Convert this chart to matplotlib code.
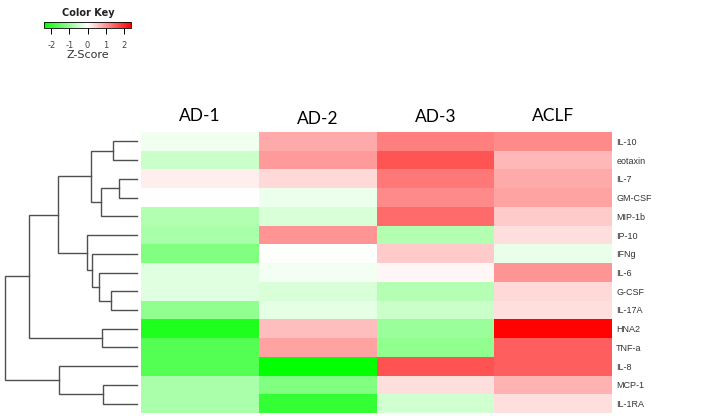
import numpy as np
import matplotlib
matplotlib.use("Agg")
import matplotlib.pyplot as plt
from matplotlib.colors import LinearSegmentedColormap, Normalize
from matplotlib.cm import ScalarMappable

plt.rcParams["axes.unicode_minus"] = False

# ---- data ----
columns = ["AD-1", "AD-2", "AD-3", "ACLF"]
rows = ["IL-10", "eotaxin", "IL-7", "GM-CSF", "MIP-1b", "IP-10", "IFNg", "IL-6",
        "G-CSF", "IL-17A", "HNA2", "TNF-a", "IL-8", "MCP-1", "IL-1RA"]
ad1 = [-0.15, -0.5, 0.15, 0.0, -0.73, -0.8, -1.2, -0.3, -0.3, -1.05, -2.1, -1.6, -1.6, -0.8, -0.8]
ad2 = [0.8, 0.95, 0.37, -0.17, -0.37, 1.0, -0.02, -0.1, -0.37, -0.25, 0.6, 0.88, -2.38, -1.2, -1.9]
ad3 = [1.2, 1.6, 1.27, 1.1, 1.4, -0.73, 0.5, 0.08, -0.7, -0.5, -0.95, -1.05, 1.63, 0.3, -0.44]
aclf = [1.1, 0.66, 0.8, 0.88, 0.5, 0.3, -0.2, 1.0, 0.37, 0.3, 2.38, 1.5, 1.5, 0.73, 0.3]

# dendrogram merges: (left, right, height)
merges = [
    ("IL-10", "eotaxin", 1.82),   # c0
    ("IL-7", "GM-CSF", 1.36),     # c1
    ("c1", "MIP-1b", 2.73),       # c2
    ("c0", "c2", 3.48),           # c3
    ("G-CSF", "IL-17A", 1.97),    # c4
    ("IL-6", "c4", 2.88),         # c5
    ("IFNg", "c5", 3.41),         # c6
    ("IP-10", "c6", 3.79),        # c7
    ("c3", "c7", 5.98),           # c8
    ("HNA2", "TNF-a", 2.65),      # c9
    ("c8", "c9", 8.18),           # c10
    ("MCP-1", "IL-1RA", 2.58),    # c11
    ("IL-8", "c11", 5.91),        # c12
    ("c10", "c12", 10.0),         # c13
]
key_ticks = [-2, -1, 0, 1, 2]
zlim = 2.4

# ---- figure ----
W, H = 708, 416
fig = plt.figure(figsize=(W / 100, H / 100), dpi=100)
fig.patch.set_facecolor("white")

def px_axes(x0, y0, x1, y1):
    return fig.add_axes([x0 / W, 1 - y1 / H, (x1 - x0) / W, (y1 - y0) / H])

cmap = LinearSegmentedColormap.from_list("gwr", ["#00FF00", "#FFFFFF", "#FF0000"], N=256)
norm = Normalize(vmin=-zlim, vmax=zlim)

data = np.array([ad1, ad2, ad3, aclf]).T
ax = px_axes(141, 132, 612, 413)
ax.pcolormesh(np.arange(len(columns) + 1), np.arange(len(rows) + 1), data,
              cmap=cmap, norm=norm, shading="flat")
ax.set_xlim(0, len(columns))
ax.set_ylim(len(rows), 0)
for s in ax.spines.values():
    s.set_visible(False)
ax.set_xticks([])
ax.yaxis.tick_right()
ax.set_yticks(np.arange(len(rows)) + 0.5)
ax.set_yticklabels(rows, fontsize=6.5, color="#333333", family="Liberation Sans")
ax.tick_params(axis="y", length=0, pad=3)

# column titles
col_y = [-0.85, -0.7, -0.8, -0.85]
for i, (c, yy) in enumerate(zip(columns, col_y)):
    ax.text(i + 0.5, yy, c, ha="center", va="center", fontsize=12.5,
            family="Lato", color="black", clip_on=False)

# ---- dendrogram ----
dax = px_axes(4, 132, 137, 413)
dax.set_xlim(10.0 * 1.0075, 0)
dax.set_ylim(len(rows), 0)
dax.axis("off")
pos = {r: (i + 0.5, 0.0) for i, r in enumerate(rows)}
for k, (a, b, h) in enumerate(merges):
    ya, ha = pos[a]
    yb, hb = pos[b]
    dax.plot([ha, h, h, hb], [ya, ya, yb, yb], color="#505050", lw=1.0,
             solid_joinstyle="miter", clip_on=False)
    pos["c%d" % k] = ((ya + yb) / 2, h)

# ---- color key ----
cax = px_axes(44, 22, 131, 28)
cb = fig.colorbar(ScalarMappable(norm=norm, cmap=cmap), cax=cax, orientation="horizontal")
cb.outline.set_linewidth(0.6)
cb.set_ticks(key_ticks)
cb.ax.tick_params(axis="x", length=4, width=0.7, pad=5, labelsize=6, labelcolor="#444444",
                  direction="out")
cax.set_xlabel("Z-Score", fontsize=8, labelpad=0, color="#333333")
fig.text(88 / W, 1 - 13 / H, "Color Key", ha="center", va="center", fontsize=7,
         fontweight="bold", color="#222222")

fig.savefig("out.png", dpi=100, facecolor="white")
